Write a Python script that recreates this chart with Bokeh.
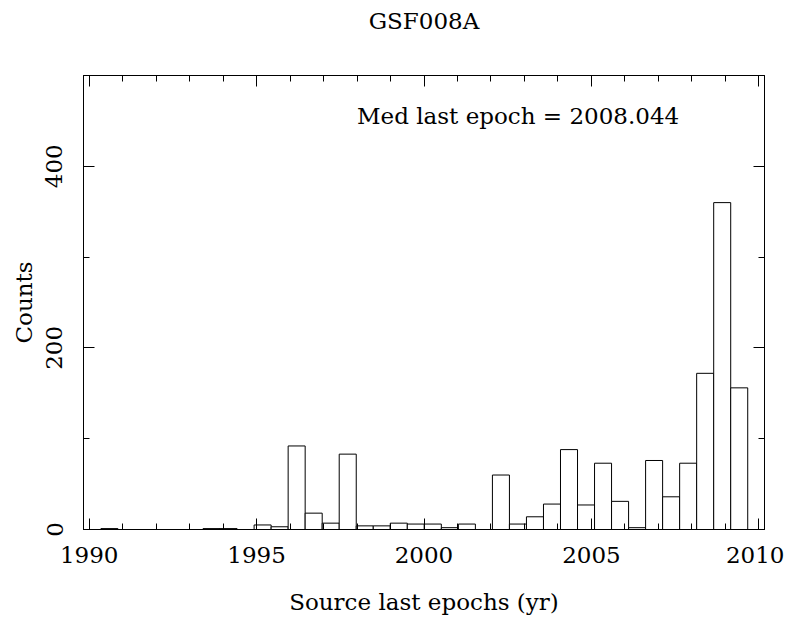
import numpy as np
from bokeh.plotting import figure
from bokeh.models import (Range1d, LinearAxis, Label, SingleIntervalTicker,
                          ColumnDataSource, CustomJSTickFormatter)
from bokeh.embed import file_html
from bokeh.resources import INLINE

# ---- data ----
title_text = "GSF008A"
x_label = "Source last epochs (yr)"
y_label = "Counts"
median_text = "Med last epoch = 2008.044"
bin_start = 1990.35
bin_width = 0.5084
counts = [1, 0, 0, 0, 0, 0, 1, 1, 0, 5,
          3, 92, 18, 7, 83, 4, 4, 7, 6, 6,
          2, 6, 0, 60, 6, 14, 28, 88, 27, 73,
          31, 2, 76, 36, 73, 172, 360, 156]
x_min, x_max = 1989.83, 2010.17
y_min, y_max = 0, 500

FONT = "DejaVu Serif"
FS = "23px"

edges = bin_start + bin_width * np.arange(len(counts) + 1)
src = ColumnDataSource(dict(left=edges[:-1], right=edges[1:], top=counts,
                            bottom=[0] * len(counts)))

p = figure(width=784, height=617, output_backend="svg", toolbar_location=None,
           x_range=Range1d(x_min, x_max), y_range=Range1d(y_min, y_max),
           min_border_left=83, min_border_right=20, min_border_top=75, min_border_bottom=86,
           x_axis_label=x_label, y_axis_label=y_label)

p.quad(left="left", right="right", top="top", bottom="bottom", source=src,
       fill_color="white", line_color="black", line_width=1)

p.grid.visible = False
p.outline_line_color = "black"
p.outline_line_width = 1
p.background_fill_color = "white"
p.border_fill_color = "white"

def style_axis(ax, labels=True):
    ax.axis_line_color = "black"
    ax.major_tick_line_color = "black"
    ax.minor_tick_line_color = "black"
    ax.major_tick_in = 11
    ax.major_tick_out = 0
    ax.minor_tick_in = 6
    ax.minor_tick_out = 0
    ax.major_label_text_font = FONT
    ax.major_label_text_font_size = FS
    ax.major_label_text_color = "black"
    ax.axis_label_text_font = FONT
    ax.axis_label_text_font_size = FS
    ax.axis_label_text_font_style = "normal"
    ax.axis_label_text_color = "black"
    if not labels:
        ax.formatter = CustomJSTickFormatter(code="return ''")

p.xaxis.ticker = SingleIntervalTicker(interval=5, num_minor_ticks=5)
p.yaxis.ticker = SingleIntervalTicker(interval=200, num_minor_ticks=2)
style_axis(p.xaxis[0])
style_axis(p.yaxis[0])
p.xaxis.major_label_standoff = 17
p.xaxis.axis_label_standoff = 23
p.yaxis.major_label_orientation = "vertical"
p.yaxis.major_label_standoff = 21
p.yaxis.axis_label_standoff = 7

# top axis carries the plot title as its label (PGPLOT-style layout)
top_ax = LinearAxis(ticker=SingleIntervalTicker(interval=5, num_minor_ticks=5),
                    axis_label=title_text)
style_axis(top_ax, labels=False)
top_ax.major_label_standoff = 0
top_ax.axis_label_standoff = 42
p.add_layout(top_ax, "above")
right_ax = LinearAxis(ticker=SingleIntervalTicker(interval=200, num_minor_ticks=2))
style_axis(right_ax, labels=False)
right_ax.major_label_standoff = 0
p.add_layout(right_ax, "right")

p.add_layout(Label(x=1998.0, y=455, text=median_text, text_font=FONT,
                   text_font_size=FS, text_baseline="middle", text_align="left",
                   text_color="black"))

open("out.html", "w").write(file_html(p, INLINE))
